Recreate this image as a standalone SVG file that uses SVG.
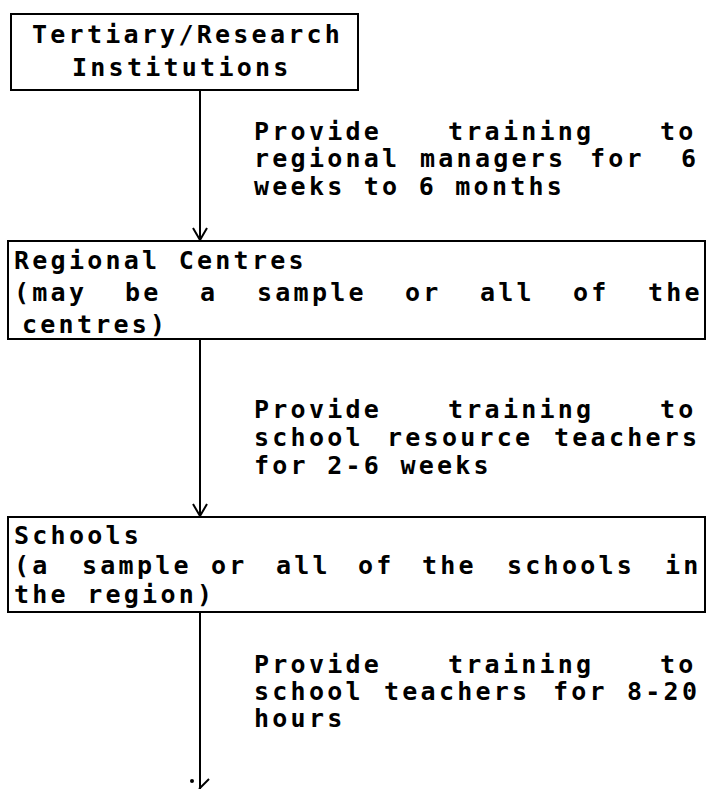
<svg xmlns="http://www.w3.org/2000/svg" width="709" height="789" viewBox="0 0 709 789">
<style>
  .box { fill: #ffffff; stroke: #000000; stroke-width: 2; }
  .t { font-family: "DejaVu Sans Mono", "Liberation Mono", monospace; font-size: 25px; font-weight: bold; letter-spacing: 3.25px; fill: #000000; }
  .conn { stroke: #000000; stroke-width: 2; fill: none; }
</style>
<defs>
  <marker id="arr" viewBox="0 0 16 16" refX="15" refY="8" markerWidth="16" markerHeight="16" markerUnits="userSpaceOnUse" orient="auto">
    <path d="M3,1 L15,8 L3,15" fill="none" stroke="#000" stroke-width="2"/>
  </marker>
</defs>
<rect width="709" height="789" fill="#ffffff"/>

<g id="connectors">
  <line class="conn" x1="200" y1="90" x2="200" y2="240" marker-end="url(#arr)"/>
  <line class="conn" x1="200" y1="339" x2="200" y2="516" marker-end="url(#arr)"/>
  <line class="conn" x1="200" y1="612" x2="200" y2="789"/>
  <circle cx="192" cy="781" r="2" fill="#000"/>
  <line class="conn" x1="199" y1="789" x2="209" y2="779"/>
</g>

<g id="node-tertiary">
  <rect class="box" x="11" y="14" width="347" height="76"/>
  <text class="t" x="32" y="43">Tertiary/Research</text>
  <text class="t" x="72" y="76">Institutions</text>
</g>

<g id="label-1">
  <text class="t" y="140"><tspan x="254">Provide</tspan><tspan x="448">training</tspan><tspan x="660">to</tspan></text>
  <text class="t" y="167"><tspan x="254">regional</tspan><tspan x="420">managers</tspan><tspan x="590">for</tspan><tspan x="681">6</tspan></text>
  <text class="t" x="254" y="195">weeks to 6 months</text>
</g>

<g id="node-regional">
  <rect class="box" x="8" y="241" width="697" height="98"/>
  <text class="t" x="14" y="269">Regional Centres</text>
  <text class="t" y="301"><tspan x="14">(may</tspan><tspan x="125">be</tspan><tspan x="200">a</tspan><tspan x="257">sample</tspan><tspan x="405">or</tspan><tspan x="480">all</tspan><tspan x="573">of</tspan><tspan x="648">the</tspan></text>
  <text class="t" x="22" y="333">centres)</text>
</g>

<g id="label-2">
  <text class="t" y="418"><tspan x="254">Provide</tspan><tspan x="448">training</tspan><tspan x="660">to</tspan></text>
  <text class="t" y="446"><tspan x="254">school</tspan><tspan x="387">resource</tspan><tspan x="554">teachers</tspan></text>
  <text class="t" x="254" y="474">for 2-6 weeks</text>
</g>

<g id="node-schools">
  <rect class="box" x="8" y="517" width="697" height="95"/>
  <text class="t" x="14" y="544">Schools</text>
  <text class="t" y="574"><tspan x="14">(a</tspan><tspan x="82">sample</tspan><tspan x="211">or</tspan><tspan x="276">all</tspan><tspan x="358">of</tspan><tspan x="422">the</tspan><tspan x="507">schools</tspan><tspan x="665">in</tspan></text>
  <text class="t" x="14" y="603">the region)</text>
</g>

<g id="label-3">
  <text class="t" y="673"><tspan x="254">Provide</tspan><tspan x="448">training</tspan><tspan x="660">to</tspan></text>
  <text class="t" y="700"><tspan x="254">school</tspan><tspan x="384">teachers</tspan><tspan x="553">for</tspan><tspan x="627">8-20</tspan></text>
  <text class="t" x="254" y="727">hours</text>
</g>
</svg>
